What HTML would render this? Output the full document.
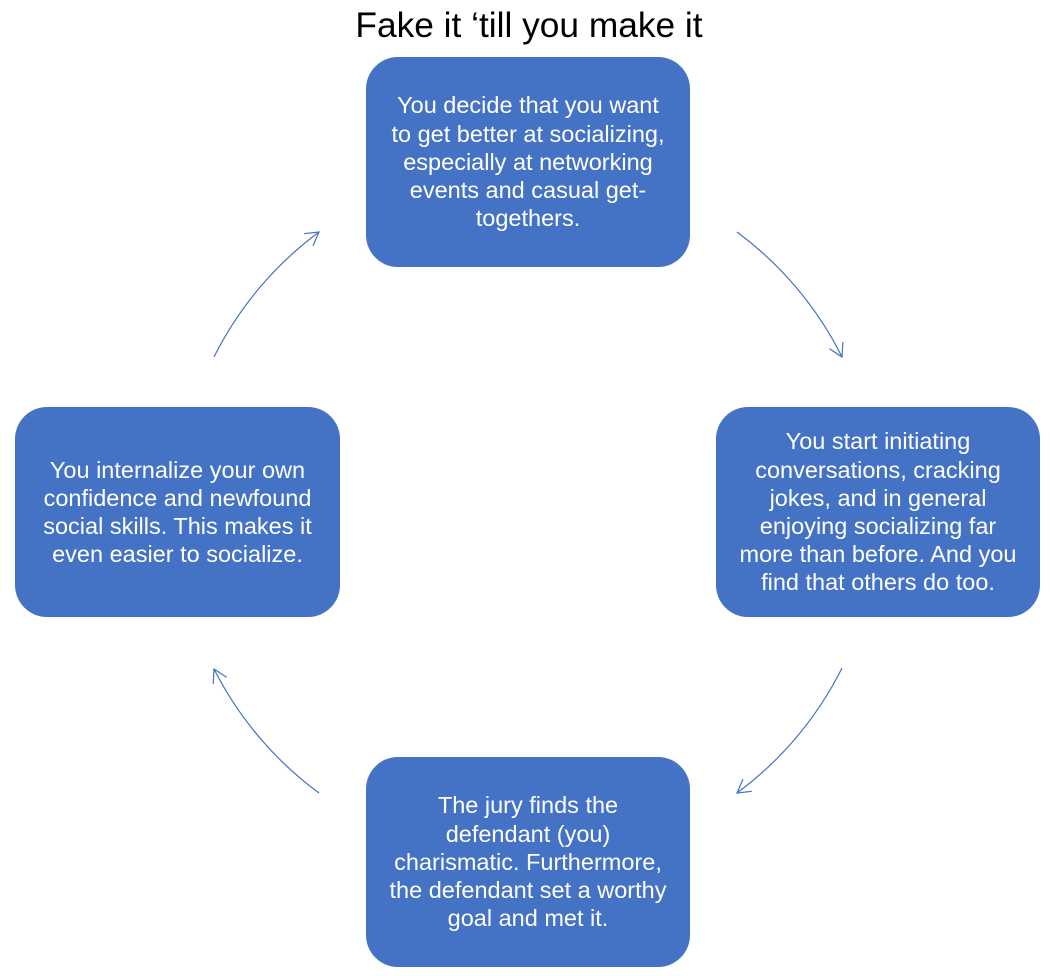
<!DOCTYPE html>
<html>
<head>
<meta charset="utf-8">
<style>
  html, body { margin:0; padding:0; background:#ffffff; }
  body { width:1053px; height:976px; position:relative; overflow:hidden; font-family:"Liberation Sans", Arial, sans-serif; }
  .title { position:absolute; left:0; width:1058px; top:5px; text-align:center; font-size:35.3px; line-height:42px; color:#000; white-space:nowrap; }
  .box { position:absolute; width:324px; height:210px; background:#4472C4; border-radius:32px; display:flex; align-items:center; justify-content:center; text-align:center; color:#fff; font-size:23.5px; line-height:28.2px; white-space:nowrap; }
  svg { position:absolute; left:0; top:0; }
</style>
</head>
<body>
<div class="title">Fake it ‘till you make it</div>

<svg width="1053" height="976" viewBox="0 0 1053 976">
  <defs>
    <marker id="ah" markerUnits="userSpaceOnUse" markerWidth="24" markerHeight="24" viewBox="-18 -12 24 24" refX="0" refY="0" orient="auto">
      <path d="M -13 -7.5 L 0 0 L -13 7.5" fill="none" stroke="#4472C4" stroke-width="1.2"/>
    </marker>
  </defs>
  <g fill="none" stroke="#4472C4" stroke-width="1.2">
    <path d="M 737 232 A 350 350 0 0 1 842 357" marker-end="url(#ah)"/>
    <path d="M 842 668 A 350 350 0 0 1 737 793" marker-end="url(#ah)"/>
    <path d="M 319 793 A 350 350 0 0 1 214 669" marker-end="url(#ah)"/>
    <path d="M 214 357 A 350 350 0 0 1 319 232" marker-end="url(#ah)"/>
  </g>
</svg>

<div class="box" style="left:366px; top:57px;">
  <div>You decide that you want<br>to get better at socializing,<br>especially at networking<br>events and casual get-<br>togethers.</div>
</div>

<div class="box" style="left:716px; top:407px;">
  <div>You start initiating<br>conversations, cracking<br>jokes, and in general<br>enjoying socializing far<br>more than before. And you<br>find that others do too.</div>
</div>

<div class="box" style="left:366px; top:757px;">
  <div>The jury finds the<br>defendant (you)<br>charismatic. Furthermore,<br>the defendant set a worthy<br>goal and met it.</div>
</div>

<div class="box" style="left:15px; top:407px; width:325px;">
  <div>You internalize your own<br>confidence and newfound<br>social skills. This makes it<br>even easier to socialize.</div>
</div>
</body>
</html>
